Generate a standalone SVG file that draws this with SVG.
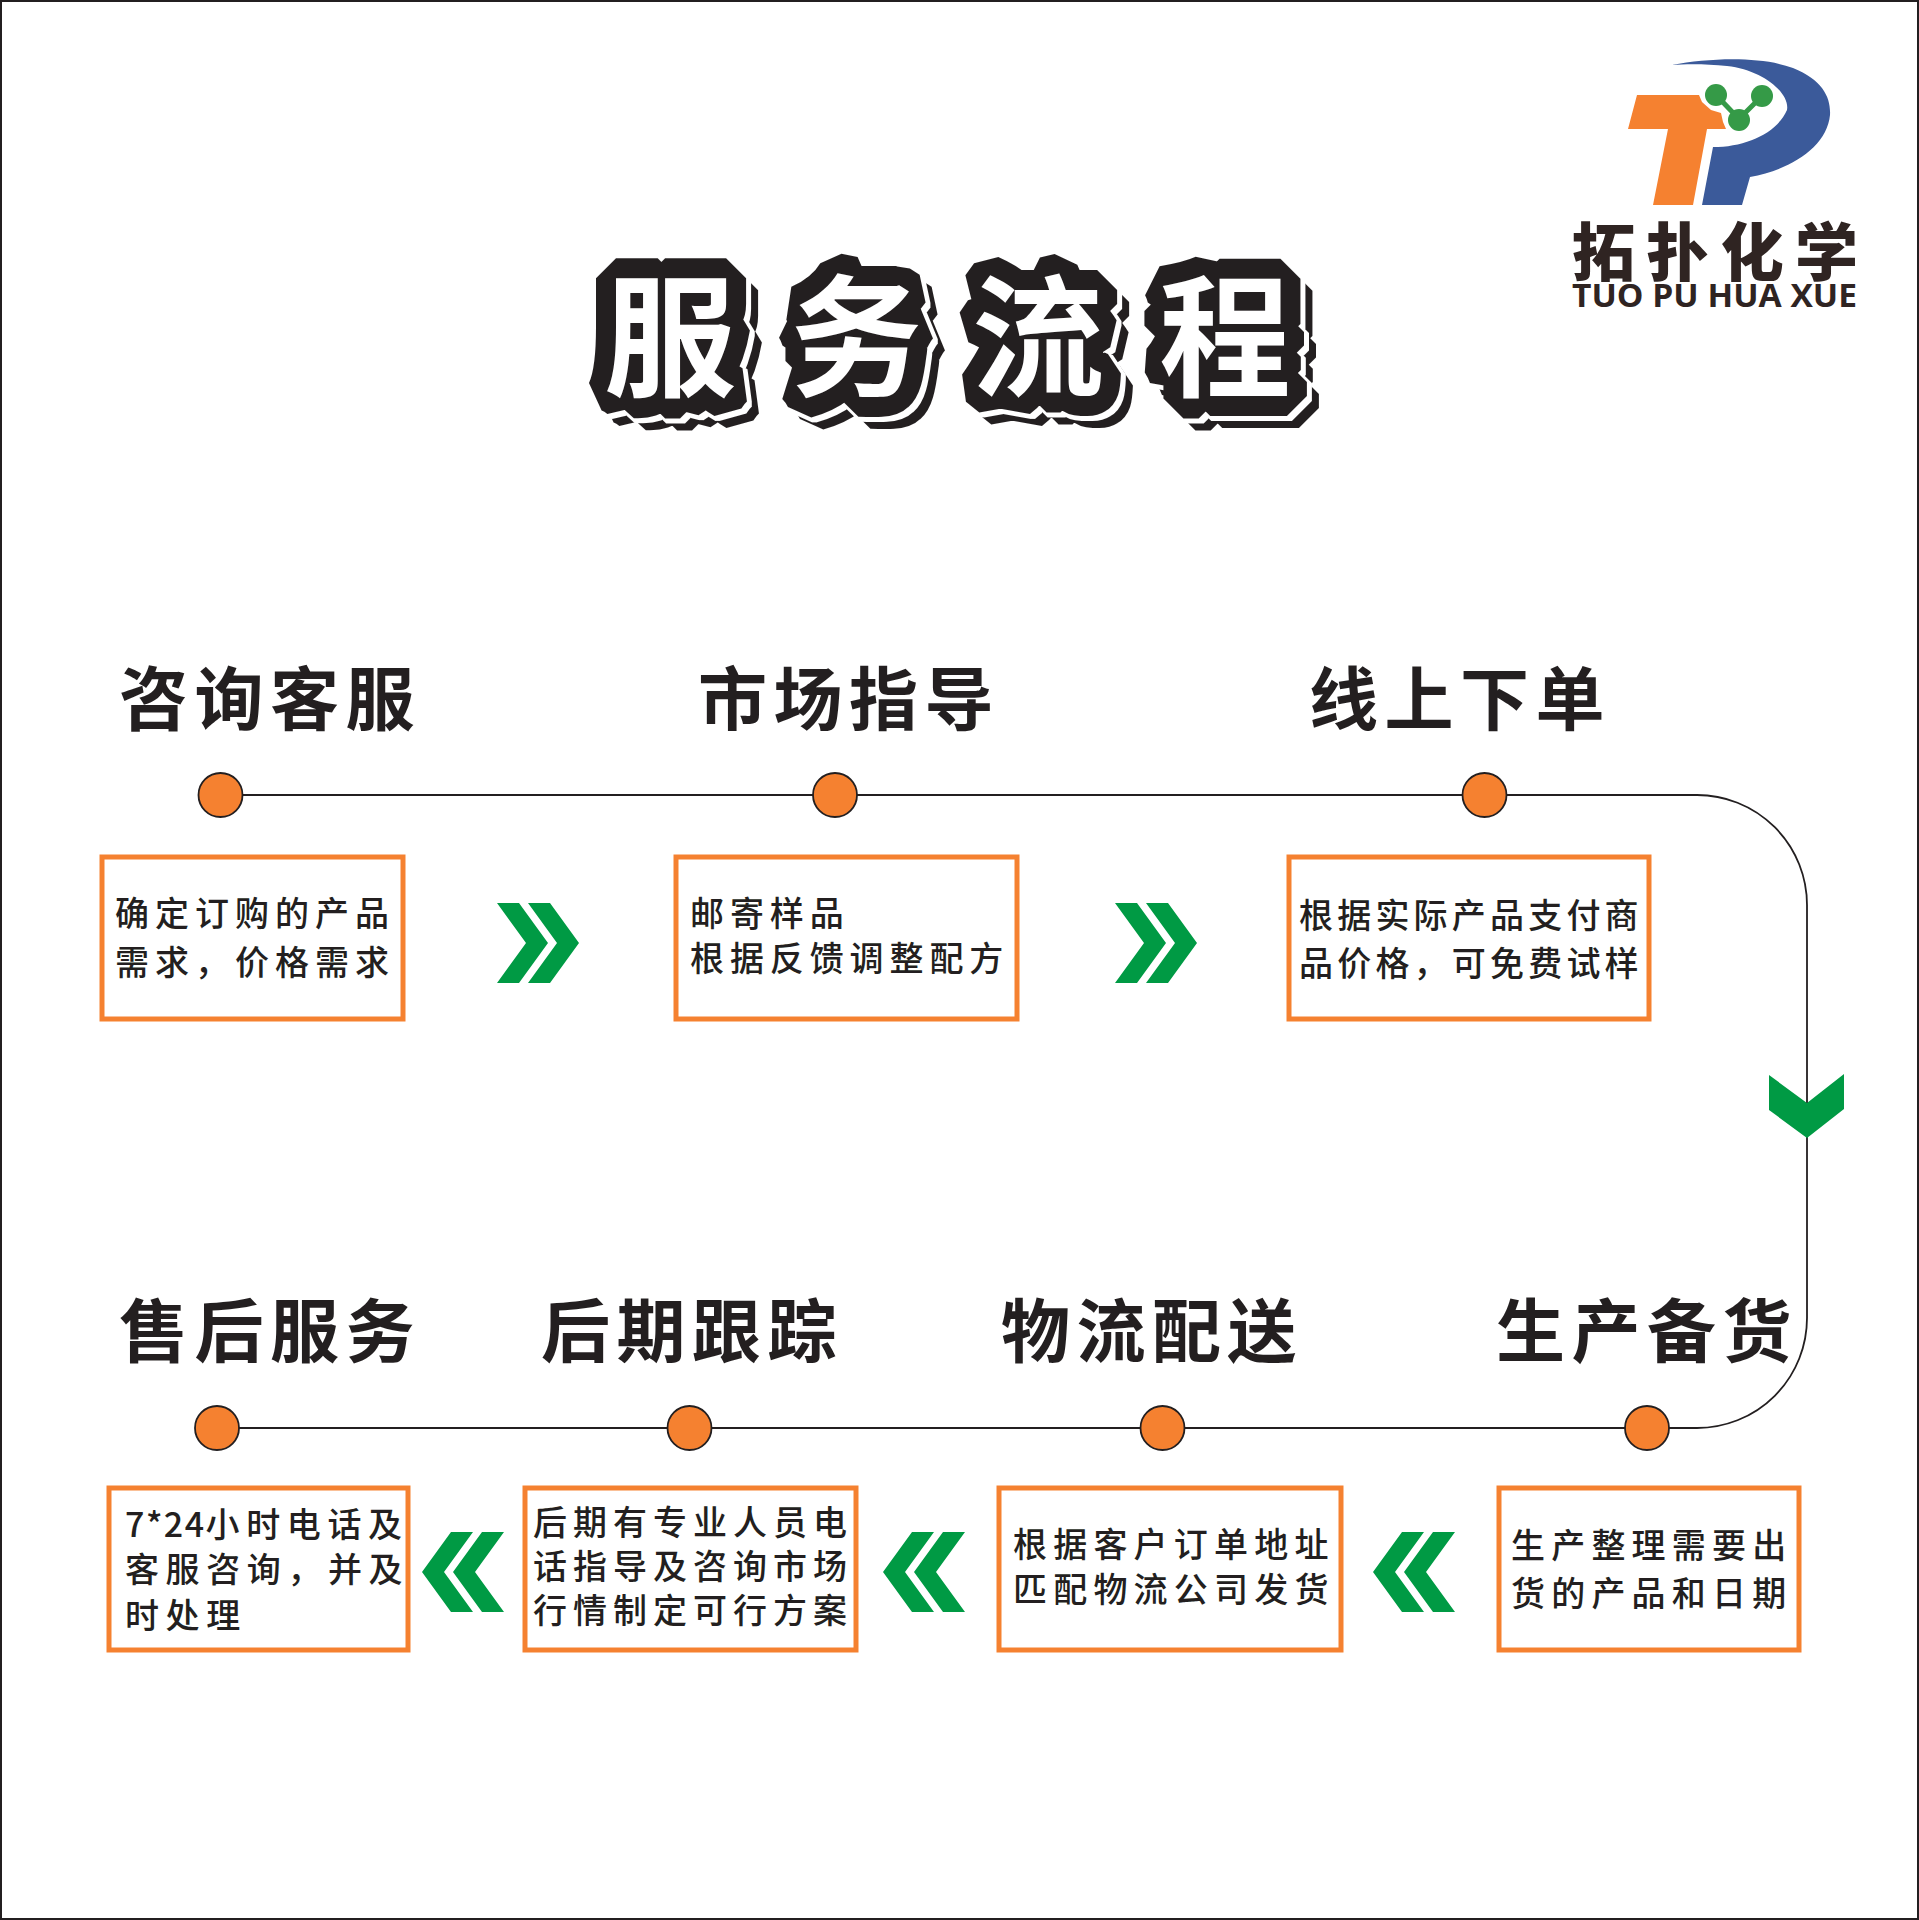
<svg xmlns="http://www.w3.org/2000/svg" width="1919" height="1920" viewBox="0 0 1919 1920">
<style>
text{font-family:"Noto Sans CJK SC","Noto Sans",sans-serif;fill:#231f20}
.h{font-size:69px;font-weight:700;letter-spacing:6.500px}
.t{font-size:34px;font-weight:500}
.b{fill:#fff;stroke:#f58130;stroke-width:5}
.c{fill:#f58130;stroke:#231f20;stroke-width:1.8}
.ln{fill:none;stroke:#231f20;stroke-width:1.8}
.g{fill:#009a44}
</style>
<defs>
<path id="dbl" d="M0 0H22L51 40 22 80H0L29 40ZM31 0H53L82 40 53 80H31L60 40Z"/>
<filter id="shadow" x="-5%" y="-20%" width="110%" height="140%" color-interpolation-filters="sRGB">
<feMorphology in="SourceAlpha" operator="dilate" radius="2" result="d"/>
<feOffset in="d" dx="3" dy="3" result="o1"/>
<feFlood flood-color="#fff"/><feComposite in2="o1" operator="in" result="white"/>
<feOffset in="SourceAlpha" dx="12" dy="12" result="o2"/>
<feFlood flood-color="#231f20"/><feComposite in2="o2" operator="in" result="dark"/>
<feMerge><feMergeNode in="dark"/><feMergeNode in="white"/><feMergeNode in="SourceGraphic"/></feMerge>
</filter>
</defs>
<rect x="1" y="1" width="1917" height="1918" fill="#fff" stroke="#231f20" stroke-width="2"/>

<g id="connectors">
<path class="ln" d="M220 795H1697A110 110 0 0 1 1807 905V1318A110 110 0 0 1 1697 1428H217"/>
<path class="g" d="M1769 1075L1807 1103 1844 1074V1109L1807 1138 1769 1110Z"/>
<use href="#dbl" class="g" x="497" y="903"/>
<use href="#dbl" class="g" x="1115" y="903"/>
<use href="#dbl" class="g" transform="translate(504 1532) scale(-1 1)"/>
<use href="#dbl" class="g" transform="translate(965 1532) scale(-1 1)"/>
<use href="#dbl" class="g" transform="translate(1455 1532) scale(-1 1)"/>
</g>

<g id="title">
<text y="386" x="604 790 972 1159" filter="url(#shadow)" paint-order="stroke" style="font-size:132px;font-weight:700;fill:#fff;stroke:#231f20;stroke-width:40px;stroke-linejoin:bevel">服务流程</text>
</g>

<g id="logo">
<path fill="#3b5a9a" d="M1672 65C1710 58 1760 56 1793 68C1823 80 1831 98 1830 115C1827 147 1790 170 1750 177L1742 205H1702L1713 147C1746 147 1777 133 1787 110C1790 93 1763 70 1727 66C1707 64 1687 64 1672 65Z"/>
<path fill="#f58130" d="M1637 95H1699L1702 102 1711 110 1721 113 1723 122 1726 129H1707L1693 205H1653L1668 129H1628Z"/>
<path d="M1716 95L1739 119 1762 96" fill="none" stroke="#359a47" stroke-width="5"/>
<circle cx="1716" cy="95" r="11" fill="#359a47"/><circle cx="1762" cy="96" r="11" fill="#359a47"/><circle cx="1739" cy="120" r="11" fill="#359a47"/>
<text x="1572" y="275" style="font-size:63px;font-weight:900;fill:#2f2422" textLength="286" lengthAdjust="spacing">拓扑化学</text>
<text x="1572" y="307" style="font-family:'Open Sans','Noto Sans',sans-serif;font-size:32px;font-weight:700;fill:#2f2422" textLength="285" lengthAdjust="spacingAndGlyphs">TUO PU HUA XUE</text>
</g>

<g id="step1"><text class="h" x="119" y="725">咨询客服</text><circle class="c" cx="220.500" cy="795" r="22"/><rect class="b" x="102" y="857" width="301" height="162"/>
<text class="t" x="115" y="926" letter-spacing="6">确定订购的产品</text><text class="t" x="115" y="975" letter-spacing="6">需求，价格需求</text></g>
<g id="step2"><text class="h" x="698" y="725">市场指导</text><circle class="c" cx="835" cy="795" r="22"/><rect class="b" x="676" y="857" width="341" height="162"/>
<text class="t" x="690" y="926" letter-spacing="5.900">邮寄样品</text><text class="t" x="690" y="971" letter-spacing="5.900">根据反馈调整配方</text></g>
<g id="step3"><text class="h" x="1309" y="725">线上下单</text><circle class="c" cx="1484.500" cy="795" r="22"/><rect class="b" x="1289" y="857" width="360" height="162"/>
<text class="t" x="1299" y="928" letter-spacing="4.200">根据实际产品支付商</text><text class="t" x="1299" y="976" letter-spacing="4.200">品价格，可免费试样</text></g>
<g id="step4"><text class="h" x="1496" y="1357">生产备货</text><circle class="c" cx="1647" cy="1428" r="22"/><rect class="b" x="1499" y="1488" width="300" height="162"/>
<text class="t" x="1511" y="1558" letter-spacing="6.200">生产整理需要出</text><text class="t" x="1511" y="1606" letter-spacing="6.200">货的产品和日期</text></g>
<g id="step5"><text class="h" x="1001" y="1357">物流配送</text><circle class="c" cx="1162.500" cy="1428" r="22"/><rect class="b" x="999" y="1488" width="342" height="162"/>
<text class="t" x="1013" y="1557" letter-spacing="6.200">根据客户订单地址</text><text class="t" x="1013" y="1602" letter-spacing="6.200">匹配物流公司发货</text></g>
<g id="step6"><text class="h" x="541" y="1357">后期跟踪</text><circle class="c" cx="689.500" cy="1428" r="22"/><rect class="b" x="525" y="1488" width="331" height="162"/>
<text class="t" x="533" y="1535" letter-spacing="6">后期有专业人员电</text><text class="t" x="533" y="1579" letter-spacing="6">话指导及咨询市场</text><text class="t" x="533" y="1623" letter-spacing="6">行情制定可行方案</text></g>
<g id="step7"><text class="h" x="119" y="1357">售后服务</text><circle class="c" cx="217" cy="1428" r="22"/><rect class="b" x="109" y="1488" width="299" height="162"/>
<text class="t" x="125" y="1537" letter-spacing="6.600"><tspan letter-spacing="1.500">7*24</tspan>小时电话及</text><text class="t" x="125" y="1582" letter-spacing="6.600">客服咨询，并及</text><text class="t" x="125" y="1628" letter-spacing="6.600">时处理</text></g>
</svg>
